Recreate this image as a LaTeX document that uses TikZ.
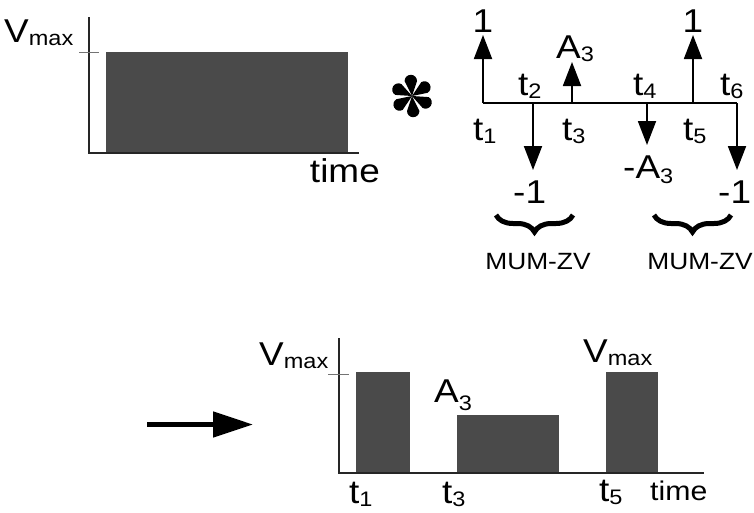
\documentclass[tikz,border=0pt]{standalone}
\usepackage{fontspec}
\setmainfont{Liberation Sans}[FakeStretch=1.12]
\usetikzlibrary{arrows.meta,decorations.pathreplacing}
\newcommand{\lowidx}[2][3pt]{\raisebox{-#1}{\fontsize{21}{24}\selectfont #2}}
\tikzset{
  pulse bar/.style={fill=black!71,draw=none},
  plot axis/.style={black!85,line width=1.4pt},
  plot tick/.style={black!55,line width=0.8pt},
  big label/.style={font=\fontsize{33}{38}\selectfont,inner sep=0pt},
  mid label/.style={font=\fontsize{27}{32}\selectfont,inner sep=0pt},
  small label/.style={font=\fontsize{23.5}{28}\selectfont,inner sep=0pt},
  impulse/.style={line width=1.9pt,-{Triangle[width=18pt,length=24pt]}},
  mum brace/.style={decorate,decoration={brace,mirror,amplitude=17pt},line width=5pt},
  shift arrow/.style={line width=5pt,-{Triangle[width=25pt,length=40pt]}}
}

\begin{document}
\begin{tikzpicture}[x=1pt,y=-1pt]
  \useasboundingbox (0,0) rectangle (754,512);
  % single pulse
  \fill[pulse bar] (106,52) rectangle (348,153);
  \draw[plot axis] (89,17) coordinate (ya) -- (89,153) coordinate (oa) -- (359,153) coordinate (xa);
  \draw[plot tick] (79,52) -- (99,52);
  \node[big label,anchor=base west] (vmaxa) at (4,42) {V\lowidx{max}};
  \node[big label,anchor=base east] (timea) at (380,182) {time};
  % convolution sign
  \begin{scope}[shift={(412,96)}]
    \foreach \a in {30,90,150,210,270,330}
      \fill[rotate=\a] (0,0) -- (15,5) arc[start angle=90,end angle=-90,radius=6.2] -- cycle;
  \end{scope}
  % impulse sequence
  \coordinate (t1) at (483,103);
  \coordinate (t2) at (533,103);
  \coordinate (t3) at (572,103);
  \coordinate (t4) at (647,103);
  \coordinate (t5) at (693,103);
  \coordinate (t6) at (737,103);
  \coordinate (t1tip) at (483,35);
  \coordinate (t2tip) at (533,170);
  \coordinate (t3tip) at (572,62);
  \coordinate (t4tip) at (647,145);
  \coordinate (t5tip) at (693,35);
  \coordinate (t6tip) at (737,170);
  \draw[line width=1.9pt] (t1) -- (t6);
  \foreach \i in {1,...,6}
    \draw[impulse] (t\i) -- (t\i tip);
  \node[big label,anchor=base] (pone) at (483,32) {1};
  \node[big label,anchor=base] (ptwo) at (693,32) {1};
  \node[big label,anchor=base west] (pa) at (556,58) {A\lowidx{3}};
  \node[big label,anchor=base west] (mone) at (513,203) {-1};
  \node[big label,anchor=base west] (ma) at (623,178) {-A\lowidx[5pt]{3}};
  \node[big label,anchor=base west] (mtwo) at (718,203) {-1};
  \node[big label,anchor=base west] (lt1) at (473,140) {t\lowidx{1}};
  \node[big label,anchor=base west] (lt2) at (518,95) {t\lowidx{2}};
  \node[big label,anchor=base west] (lt3) at (562,140) {t\lowidx{3}};
  \node[big label,anchor=base west] (lt4) at (633,95) {t\lowidx{4}};
  \node[big label,anchor=base west] (lt5) at (683,140) {t\lowidx{5}};
  \node[big label,anchor=base west] (lt6) at (720,95) {t\lowidx{6}};
  \draw[mum brace] (496,215) coordinate (ba) -- (573,215) coordinate (bb);
  \draw[mum brace] (654,215) coordinate (bc) -- (731,215) coordinate (bd);
  \node[small label] (mzva) at (538,262) {MUM-ZV};
  \node[small label] (mzvb) at (700,262) {MUM-ZV};
  % result
  \coordinate (arra) at (147,424.5);
  \coordinate (arrb) at (253,424.5);
  \draw[shift arrow] (arra) -- (arrb);
  \fill[pulse bar] (356,372) rectangle (410,473);
  \fill[pulse bar] (457,415) rectangle (559,473);
  \fill[pulse bar] (606,372) rectangle (658,473);
  \draw[plot axis] (339,338) coordinate (yb) -- (339,473) coordinate (ob) -- (704,473) coordinate (xb);
  \draw[plot tick] (328,374) -- (349,374);
  \node[big label,anchor=base west] (vmaxb) at (259,365) {V\lowidx{max}};
  \node[big label,anchor=base west] (vmaxc) at (583,362) {V\lowidx{max}};
  \node[big label,anchor=base west] (ab) at (434,402) {A\lowidx[8pt]{3}};
  \node[big label,anchor=base west] (rt1) at (349,503) {t\lowidx{1}};
  \node[big label,anchor=base west] (rt3) at (442,503) {t\lowidx{3}};
  \node[big label,anchor=base west] (rt5) at (599,501) {t\lowidx{5}};
  \node[mid label,anchor=base west] (timeb) at (650,500) {time};
\end{tikzpicture}
\end{document}
